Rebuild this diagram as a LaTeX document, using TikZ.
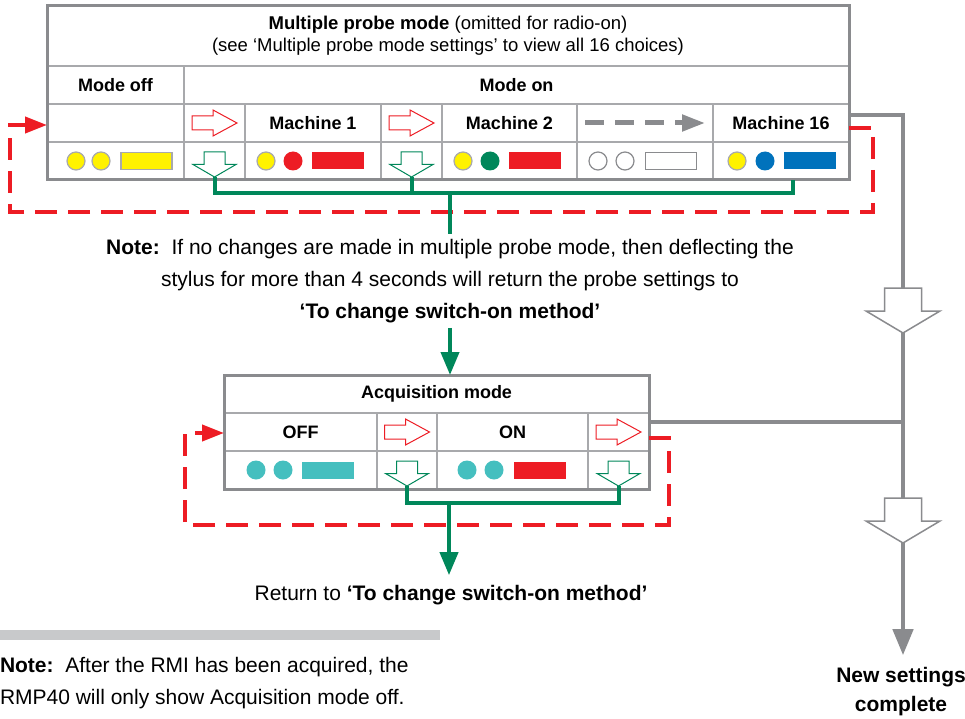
\documentclass[tikz,border=0pt]{standalone}
\usepackage{fontspec}
\setmainfont{Liberation Sans}
\usetikzlibrary{positioning}
\usetikzlibrary{arrows.meta}
\definecolor{rgray}{HTML}{8A8B8E}
\definecolor{cgray}{HTML}{A8A9AC}
\definecolor{rred}{HTML}{ED1C24}
\definecolor{rgreen}{HTML}{00875A}
\definecolor{ryellow}{HTML}{FFF200}
\definecolor{rblue}{HTML}{0072BC}
\definecolor{rteal}{HTML}{45BFBF}
\definecolor{rbar}{HTML}{C8C9CB}

\begin{document}
\begin{tikzpicture}[x=1pt,y=-1pt,
  every node/.style={inner sep=0pt,outer sep=0pt},
  cell/.style={draw=cgray,line width=1.5pt,minimum height=38pt,font=\fontsize{18}{22}\selectfont\bfseries},
  frame/.style={draw=rgray,line width=3pt},
  lamp/.style={circle,minimum size=19pt},
  lampout/.style={circle,draw=cgray,line width=1.2pt,minimum size=18pt},
  bar/.style={minimum width=52pt,minimum height=17pt},
  redloop/.style={draw=rred,line width=4pt,dash pattern=on 22pt off 11pt},
  grn/.style={draw=rgreen,line width=4pt},
  gline/.style={draw=rgray,line width=4.5pt},
  txt/.style={font=\fontsize{21}{32}\selectfont,align=center},
  rarr/.pic={\draw[rred,fill=white,line width=1pt] (-22.5,7) -- (-1.5,7) -- (-1.5,13) -- (22.5,0) -- (-1.5,-13) -- (-1.5,-7) -- (-22.5,-7) -- cycle;},
  darr/.pic={\draw[rgreen,fill=white,line width=1pt] (-10.5,-12.5) -- (10.5,-12.5) -- (10.5,0) -- (21.5,0) -- (0,12.5) -- (-21.5,0) -- (-10.5,0) -- cycle;
    \coordinate (-tip) at (0,12.5);},
  barr/.pic={\draw[rgray,fill=white,line width=1.5pt] (-18.5,-45) -- (18.5,-45) -- (18.5,-22) -- (37,-22) -- (0,0) -- (-37,-22) -- (-18.5,-22) -- cycle;
    \coordinate (-top) at (0,-45);}
]
\useasboundingbox (0,0) rectangle (965,719);

% multiple probe mode table
\node[cell,minimum width=802pt,minimum height=60pt,anchor=north west,align=center,font=\fontsize{18.5}{22}\selectfont] (title) at (47,6)
  {\textbf{Multiple probe mode} (omitted for radio-on)\\(see ‘Multiple probe mode settings’ to view all 16 choices)};
\node[cell,minimum width=137pt,anchor=north west] (modeoff) at (title.south west) {Mode off};
\node[cell,minimum width=665pt,right=0pt of modeoff] (modeon) {Mode on};

\node[cell,minimum width=137pt,below=0pt of modeoff] (r0) {};
\node[cell,minimum width=61pt,right=0pt of r0] (a1) {};
\node[cell,minimum width=136pt,right=0pt of a1] (m1) {Machine 1};
\node[cell,minimum width=61pt,right=0pt of m1] (a2) {};
\node[cell,minimum width=135pt,right=0pt of a2] (m2) {Machine 2};
\node[cell,minimum width=136pt,right=0pt of m2] (ad) {};
\node[cell,minimum width=136pt,right=0pt of ad] (m16) {Machine 16};

\node[cell,minimum width=137pt,below=0pt of r0] (l0) {};
\node[cell,minimum width=61pt,right=0pt of l0] (d1) {};
\node[cell,minimum width=136pt,right=0pt of d1] (l1) {};
\node[cell,minimum width=61pt,right=0pt of l1] (d2) {};
\node[cell,minimum width=135pt,right=0pt of d2] (l2) {};
\node[cell,minimum width=136pt,right=0pt of l2] (ld) {};
\node[cell,minimum width=136pt,right=0pt of ld] (l16) {};
\draw[frame] (title.north west) rectangle (l16.south east);

% lamps
\node[lampout,fill=ryellow] (l0a) at (76,161) {};
\node[lampout,fill=ryellow] (l0b) at (101,161) {};
\node[bar,fill=ryellow,draw=cgray,line width=1.2pt,minimum width=51pt] (l0c) at (146.5,161) {};
\node[lampout,fill=ryellow] (l1a) at (266,161) {};
\node[lamp,fill=rred] (l1b) at (293,161) {};
\node[bar,fill=rred] (l1c) at (338,161) {};
\node[lampout,fill=ryellow] (l2a) at (463,161) {};
\node[lamp,fill=rgreen] (l2b) at (490,161) {};
\node[bar,fill=rred] (l2c) at (535,161) {};
\node[lampout,draw=rgray,fill=white] (lda) at (598,161) {};
\node[lampout,draw=rgray,fill=white] (ldb) at (625,161) {};
\node[bar,draw=rgray,line width=1.2pt,fill=white,minimum width=51pt] (ldc) at (671,161) {};
\node[lampout,fill=ryellow] (l16a) at (737,161) {};
\node[lamp,fill=rblue] (l16b) at (765,161) {};
\node[bar,fill=rblue] (l16c) at (809.5,161) {};

\pic at (a1) {rarr};
\pic at (a2) {rarr};
\pic (pd1) at ([yshift=-3.5pt]d1.center) {darr};
\pic (pd2) at ([yshift=-3.5pt]d2.center) {darr};
\draw[rgray,line width=5pt,dash pattern=on 19pt off 11pt,-{Triangle[width=16pt,length=23pt]}]
  ([xshift=-60pt]ad.center) -- ([xshift=60pt]ad.center);

% note
\node[txt,inner ysep=5pt] (note) at (450,281)
  {\textbf{Note:}\ \ If no changes are made in multiple probe mode, then deflecting the\\
   stylus for more than 4 seconds will return the probe settings to\\
   \textbf{‘To change switch-on method’}};

% acquisition mode table
\node[cell,minimum width=425pt,anchor=north west] (acq) at (224,375) {Acquisition mode};
\node[cell,minimum width=153pt,anchor=north west] (off) at (acq.south west) {OFF};
\node[cell,minimum width=60pt,right=0pt of off] (ba1) {};
\node[cell,minimum width=151pt,right=0pt of ba1] (on) {ON};
\node[cell,minimum width=61pt,right=0pt of on] (ba2) {};
\node[cell,minimum width=153pt,below=0pt of off] (boff) {};
\node[cell,minimum width=60pt,right=0pt of boff] (bd1) {};
\node[cell,minimum width=151pt,right=0pt of bd1] (bon) {};
\node[cell,minimum width=61pt,right=0pt of bon] (bd2) {};
\draw[frame] (acq.north west) rectangle (bd2.south east);

\node[lamp,fill=rteal] (boffa) at (256,470) {};
\node[lamp,fill=rteal] (boffb) at (283,470) {};
\node[bar,fill=rteal] (boffc) at (328,470) {};
\node[lamp,fill=rteal] (bona) at (467,470) {};
\node[lamp,fill=rteal] (bonb) at (494,470) {};
\node[bar,fill=rred] (bonc) at (539.5,470) {};

\pic at (ba1) {rarr};
\pic at (ba2) {rarr};
\pic (pbd1) at ([yshift=-3.5pt]bd1.center) {darr};
\pic (pbd2) at ([yshift=-3.5pt]bd2.center) {darr};

\node[txt,inner ysep=10pt] (ret) at (451,595) {Return to \textbf{‘To change switch-on method’}};

% right side
\node[txt,font=\fontsize{21}{29}\selectfont\bfseries] (newset) at (901,692) {New settings\\complete};
\draw[gline,-{Triangle[width=20pt,length=26pt]}] ([yshift=8pt]m16.east) -| ([xshift=2pt,yshift=12.5pt]newset.north);
\draw[gline] ([yshift=10pt]ba2.east) -- ++(254,0);
\pic (g1) at (903,333) {barr};
\pic (g2) at (903,543) {barr};

% loops
\draw[redloop,-{Triangle[width=16pt,length=22pt]}] ([yshift=-5pt]m16.east) -| ++(24,84) -| ++(-863,-87) -- ([yshift=-2pt]r0.west);
\draw[redloop,-{Triangle[width=16pt,length=22pt]}] ([yshift=-6pt]ba2.east) -| ++(20,87) -| ++(-484,-92) -- ([yshift=-1pt]off.west);

\coordinate (gj) at (450,193);
\draw[grn] (pd1-tip) |- (gj) -| ([xshift=12pt]l16.south);
\draw[grn] (pd2-tip) -- (pd2-tip |- gj);
\draw[grn] (gj) -- (note.north);
\draw[grn,-{Triangle[width=18pt,length=23pt]}] (note.south) -- (note.south |- acq.north);

\coordinate (bj) at (449,503);
\draw[grn] (pbd1-tip) |- (bj) -| (pbd2-tip);
\draw[grn,-{Triangle[width=18pt,length=23pt]}] (bj) -- (bj |- ret.north);

% bottom note
\fill[rbar] (0,630) rectangle (440,640);
\node[txt,align=left,anchor=north west] (note2) at (0,657)
  {\textbf{Note:}\ \ After the RMI has been acquired, the\\RMP40 will only show Acquisition mode off.};
\end{tikzpicture}
\end{document}
